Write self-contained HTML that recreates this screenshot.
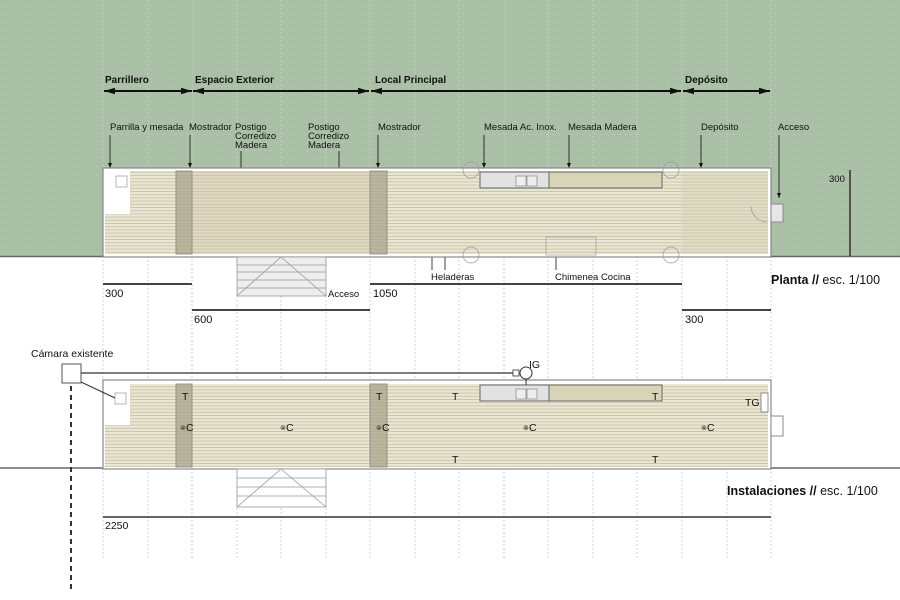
<!DOCTYPE html>
<html><head><meta charset="utf-8"><style>body{margin:0;background:#fff}svg{display:block}text{font-family:"Liberation Sans",sans-serif}</style></head><body>
<svg width="900" height="600" viewBox="0 0 900 600" xmlns="http://www.w3.org/2000/svg">
<defs>
<pattern id="st" width="4" height="3.2" patternUnits="userSpaceOnUse"><rect width="4" height="3.2" fill="#ebe7d2"/><rect y="2.2" width="4" height="1" fill="#c9c5ad"/></pattern>
<pattern id="gr" width="6" height="8" patternUnits="userSpaceOnUse"><rect width="6" height="8" fill="#a9c0a6"/><rect y="6" width="3" height="1" fill="#b4c9b0"/></pattern>
<marker id="ah" viewBox="0 0 10 10" refX="10" refY="5" markerUnits="userSpaceOnUse" markerWidth="11" markerHeight="11" orient="auto-start-reverse"><path d="M0,2L10,5L0,8z" fill="#111"/></marker>
<marker id="sa" viewBox="0 0 10 10" refX="10" refY="5" markerUnits="userSpaceOnUse" markerWidth="5" markerHeight="5" orient="auto-start-reverse"><path d="M0,1L10,5L0,9z" fill="#111"/></marker>
</defs>
<rect width="900" height="256" fill="url(#gr)"/>
<g stroke="#c4d2c0" stroke-dasharray="2,2" stroke-width="0.8">
<line x1="103" y1="0" x2="103" y2="256"/><line x1="148" y1="0" x2="148" y2="256"/><line x1="192" y1="0" x2="192" y2="256"/><line x1="237" y1="0" x2="237" y2="256"/><line x1="281" y1="0" x2="281" y2="256"/><line x1="326" y1="0" x2="326" y2="256"/><line x1="370" y1="0" x2="370" y2="256"/><line x1="415" y1="0" x2="415" y2="256"/><line x1="459" y1="0" x2="459" y2="256"/><line x1="504" y1="0" x2="504" y2="256"/><line x1="548" y1="0" x2="548" y2="256"/><line x1="593" y1="0" x2="593" y2="256"/><line x1="637" y1="0" x2="637" y2="256"/><line x1="682" y1="0" x2="682" y2="256"/><line x1="727" y1="0" x2="727" y2="256"/><line x1="771" y1="0" x2="771" y2="256"/>
</g>
<g stroke="#c8c8c8" stroke-dasharray="2,2" stroke-width="0.8">
<line x1="103" y1="256" x2="103" y2="560"/><line x1="148" y1="256" x2="148" y2="560"/><line x1="192" y1="256" x2="192" y2="560"/><line x1="237" y1="256" x2="237" y2="560"/><line x1="281" y1="256" x2="281" y2="560"/><line x1="326" y1="256" x2="326" y2="560"/><line x1="370" y1="256" x2="370" y2="560"/><line x1="415" y1="256" x2="415" y2="560"/><line x1="459" y1="256" x2="459" y2="560"/><line x1="504" y1="256" x2="504" y2="560"/><line x1="548" y1="256" x2="548" y2="560"/><line x1="593" y1="256" x2="593" y2="560"/><line x1="637" y1="256" x2="637" y2="560"/><line x1="682" y1="256" x2="682" y2="560"/><line x1="727" y1="256" x2="727" y2="560"/><line x1="771" y1="256" x2="771" y2="560"/>
</g>
<g font-size="10" font-weight="bold" fill="#111"><text x="105" y="83">Parrillero</text><text x="195" y="83">Espacio Exterior</text><text x="375" y="83">Local Principal</text><text x="685" y="83">Depósito</text></g>
<g stroke="#111" stroke-width="2" marker-start="url(#ah)" marker-end="url(#ah)"><line x1="104" y1="91" x2="192" y2="91"/><line x1="193" y1="91" x2="369" y2="91"/><line x1="371" y1="91" x2="681" y2="91"/><line x1="683" y1="91" x2="770" y2="91"/></g>
<g font-size="9.5" fill="#111"><text x="110" y="130">Parrilla y mesada</text><text x="189" y="130">Mostrador</text><text x="235" y="130">Postigo</text><text x="235" y="139">Corredizo</text><text x="235" y="148">Madera</text><text x="308" y="130">Postigo</text><text x="308" y="139">Corredizo</text><text x="308" y="148">Madera</text><text x="378" y="130">Mostrador</text><text x="484" y="130">Mesada Ac. Inox.</text><text x="568" y="130">Mesada Madera</text><text x="701" y="130">Depósito</text><text x="778" y="130">Acceso</text><text x="431" y="280">Heladeras</text><text x="555" y="280">Chimenea Cocina</text><text x="328" y="297">Acceso</text><text x="829" y="182">300</text></g>
<g stroke="#111" stroke-width="0.8" marker-end="url(#sa)" fill="none"><line x1="110" y1="135" x2="110" y2="168"/><line x1="190" y1="135" x2="190" y2="168"/><polyline points="241,151 241,190 197,190"/><polyline points="339,151 339,190 367,190"/><line x1="378" y1="135" x2="378" y2="168"/><line x1="484" y1="135" x2="484" y2="168"/><line x1="569" y1="135" x2="569" y2="168"/><line x1="701" y1="135" x2="701" y2="168"/><line x1="779" y1="135" x2="779" y2="198"/><line x1="445" y1="270" x2="445" y2="182"/><line x1="432" y1="270" x2="432" y2="244"/><line x1="556" y1="270" x2="556" y2="244"/></g>
<line x1="0" y1="256.5" x2="103" y2="256.5" stroke="#666" stroke-width="1.5"/><line x1="771" y1="256.5" x2="900" y2="256.5" stroke="#666" stroke-width="1.5"/>
<line x1="850" y1="170" x2="850" y2="256" stroke="#111" stroke-width="1.2"/>
<rect x="103" y="168" width="668" height="89" fill="#fff" stroke="#888" stroke-width="1.2"/>
<rect x="130" y="171" width="638" height="83" fill="url(#st)"/>
<rect x="105" y="214" width="25" height="40" fill="url(#st)"/>
<rect x="192" y="171" width="178" height="83" fill="#c8c4a6" opacity="0.35"/>
<rect x="682" y="171" width="86" height="83" fill="#d6d2b8" opacity="0.5"/>
<rect x="176" y="171" width="16" height="83" fill="#a9a68c" opacity="0.75" stroke="#777"/>
<rect x="370" y="171" width="17" height="83" fill="#a9a68c" opacity="0.75" stroke="#777"/>
<rect x="480" y="172" width="69" height="16" fill="#e2e2e2" stroke="#666"/>
<rect x="549" y="172" width="113" height="16" fill="#d8d4b8" stroke="#666"/>
<rect x="516" y="176" width="10" height="10" fill="#eee" stroke="#777" stroke-width=".6"/><rect x="527" y="176" width="10" height="10" fill="#eee" stroke="#777" stroke-width=".6"/>
<rect x="116" y="176" width="11" height="11" fill="#fff" stroke="#888" stroke-width=".6"/>
<rect x="771" y="204" width="12" height="18" fill="#e6e6e6" stroke="#888"/>
<g fill="none" stroke="#999" stroke-width=".7"><circle cx="471" cy="170" r="8"/><circle cx="471" cy="255" r="8"/><circle cx="671" cy="170" r="8"/><circle cx="671" cy="255" r="8"/><rect x="546" y="237" width="50" height="18"/><path d="M767,222 A16,16 0 0 1 751,206"/></g>
<g stroke="#999" stroke-width=".8" fill="#eee"><rect x="237" y="257" width="89" height="39"/><line x1="237" y1="265" x2="326" y2="265"/><line x1="237" y1="272" x2="326" y2="272"/><line x1="237" y1="280" x2="326" y2="280"/><line x1="237" y1="288" x2="326" y2="288"/><polyline points="237,296 281,257 326,296" fill="none"/></g>
<g stroke="#444" stroke-width="2"><line x1="103" y1="284" x2="192" y2="284"/><line x1="192" y1="310" x2="370" y2="310"/><line x1="370" y1="284" x2="682" y2="284"/><line x1="682" y1="310" x2="771" y2="310"/></g>
<g font-size="11" fill="#111"><text x="105" y="297">300</text><text x="194" y="323">600</text><text x="373" y="297">1050</text><text x="685" y="323">300</text></g>
<text x="771" y="284" font-size="12.5" fill="#111"><tspan font-weight="bold">Planta //</tspan> esc. 1/100</text>
<line x1="0" y1="468" x2="103" y2="468" stroke="#666" stroke-width="1.5"/><line x1="771" y1="468" x2="900" y2="468" stroke="#666" stroke-width="1.5"/>
<rect x="103" y="380" width="668" height="89" fill="#fff" stroke="#888" stroke-width="1.2"/>
<rect x="130" y="384" width="638" height="83" fill="url(#st)"/>
<rect x="105" y="425" width="25" height="42" fill="url(#st)"/>
<rect x="176" y="384" width="16" height="83" fill="#a9a68c" opacity="0.75" stroke="#777"/>
<rect x="370" y="384" width="17" height="83" fill="#a9a68c" opacity="0.75" stroke="#777"/>
<rect x="480" y="385" width="69" height="16" fill="#e2e2e2" stroke="#666"/>
<rect x="549" y="385" width="113" height="16" fill="#d8d4b8" stroke="#666"/>
<rect x="516" y="389" width="10" height="10" fill="#eee" stroke="#777" stroke-width=".6"/><rect x="527" y="389" width="10" height="10" fill="#eee" stroke="#777" stroke-width=".6"/>
<rect x="115" y="393" width="11" height="11" fill="#fff" stroke="#888" stroke-width=".6"/>
<rect x="771" y="416" width="12" height="20" fill="#fff" stroke="#888"/>
<rect x="761" y="393" width="7" height="19" fill="#fff" stroke="#666" stroke-width=".7"/>
<g stroke="#999" stroke-width=".8" fill="#fff"><rect x="237" y="469" width="89" height="38"/><line x1="237" y1="478" x2="326" y2="478"/><line x1="237" y1="487" x2="326" y2="487"/><line x1="237" y1="496" x2="326" y2="496"/><polyline points="237,507 281,469 326,507" fill="none"/></g>
<rect x="62" y="364" width="19" height="19" fill="#fff" stroke="#555"/>
<line x1="81" y1="373" x2="513" y2="373" stroke="#333" stroke-width="1.2"/>
<line x1="81" y1="382" x2="115" y2="398" stroke="#333"/>
<rect x="513" y="370" width="6" height="6" fill="#fff" stroke="#333" stroke-width=".8"/>
<circle cx="526" cy="373" r="6" fill="#fff" stroke="#333"/><line x1="526" y1="379" x2="526" y2="385" stroke="#333"/>
<line x1="71" y1="386" x2="71" y2="592" stroke="#333" stroke-width="2" stroke-dasharray="5,4"/>
<g font-size="10.5" fill="#111"><text x="31" y="357">Cámara existente</text><text x="529" y="368">IG</text>
<text x="182" y="400">T</text><text x="376" y="400">T</text><text x="452" y="400">T</text><text x="652" y="400">T</text><text x="452" y="463">T</text><text x="652" y="463">T</text><text x="745" y="406">TG</text>
<text x="186" y="431">C</text><text x="286" y="431">C</text><text x="382" y="431">C</text><text x="529" y="431">C</text><text x="707" y="431">C</text>
<text x="105" y="529">2250</text></g>
<g font-size="7" fill="#333"><text x="180" y="430">⊗</text><text x="280" y="430">⊗</text><text x="376" y="430">⊗</text><text x="523" y="430">⊗</text><text x="701" y="430">⊗</text></g>
<line x1="103" y1="517" x2="771" y2="517" stroke="#333" stroke-width="1.5"/>
<text x="727" y="495" font-size="12.5" fill="#111"><tspan font-weight="bold">Instalaciones //</tspan> esc. 1/100</text>
</svg>
</body></html>
